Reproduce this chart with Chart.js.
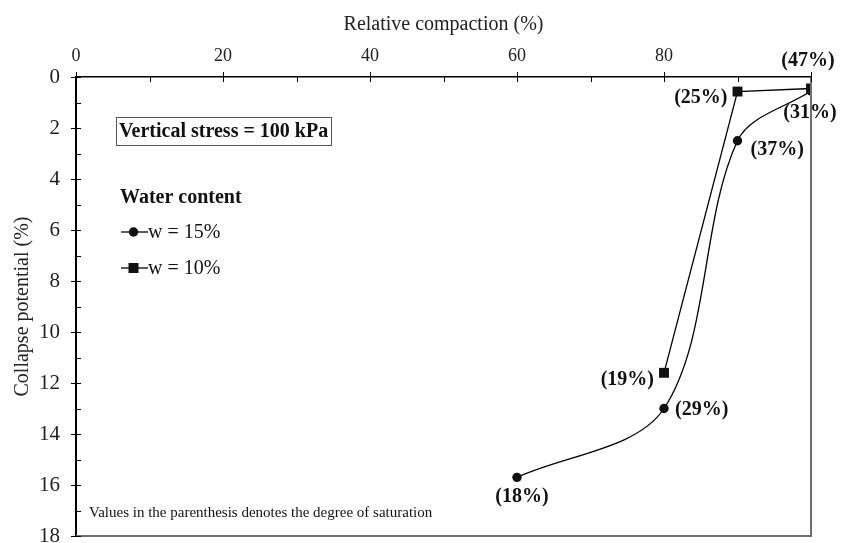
<!DOCTYPE html>
<html>
<head>
<meta charset="utf-8">
<script src="https://cdn.jsdelivr.net/npm/chart.js@4"></script>
<style>
  html, body { margin: 0; padding: 0; background: #fff; }
  #wrap { width: 846px; height: 543px; }
</style>
</head>
<body>
<div id="wrap"><canvas id="myChart" width="846" height="543"></canvas></div>
<script>
// w = 15%
const compaction15 = [60, 80, 90, 100];
const collapse15 = [15.7, 13.0, 2.5, 0.55];
const saturation15 = ['(18%)', '(29%)', '(37%)', '(31%)'];

// w = 10%
const compaction10 = [80, 90, 100];
const collapse10 = [11.6, 0.57, 0.45];
const saturation10 = ['(19%)', '(25%)', '(47%)'];

const xTicks = [0, 20, 40, 60, 80];
const seriesNames = ['w = 15%', 'w = 10%'];

const serif = "'Liberation Serif', 'Times New Roman', serif";

function toPoints(xs, ys) {
  return xs.map((x, i) => ({ x: x, y: ys[i] }));
}

// label offsets around each point [dx, dy, align]
const labelPos15 = [[5, 19, 'center'], [11, 1, 'left'], [13, 9, 'left'], [-1, 22, 'center']];
const labelPos10 = [[-10, 7, 'right'], [-10, 6, 'right'], [-3, -28, 'center']];

const decorations = {
  id: 'decorations',
  afterDraw(chart) {
    const ctx = chart.ctx;
    const xs = chart.scales.x, ys = chart.scales.y;
    const a = chart.chartArea;
    ctx.save();

    // right + bottom plot border
    ctx.strokeStyle = '#6e6e6e';
    ctx.lineWidth = 2;
    ctx.beginPath();
    ctx.moveTo(a.right, a.top);
    ctx.lineTo(a.right, a.bottom);
    ctx.lineTo(a.left, a.bottom);
    ctx.stroke();

    // tick marks: major cross the axis, minor inside only
    ctx.strokeStyle = '#000';
    ctx.lineWidth = 1;
    ctx.beginPath();
    for (let v = 0; v <= 100; v += 10) {
      const px = Math.round(xs.getPixelForValue(v)) + 0.5;
      const major = v % 20 === 0;
      ctx.moveTo(px, a.top - (major ? 5 : 0));
      ctx.lineTo(px, a.top + 5);
    }
    for (let v = 0; v <= 18; v += 1) {
      const py = Math.round(ys.getPixelForValue(v)) + 0.5;
      const major = v % 2 === 0;
      ctx.moveTo(a.left - (major ? 5 : 0), py);
      ctx.lineTo(a.left + 5, py);
    }
    ctx.stroke();

    // degree of saturation labels
    ctx.fillStyle = '#111';
    ctx.font = 'bold 20px ' + serif;
    ctx.textBaseline = 'middle';
    const drawLabels = (xv, yv, txt, pos) => {
      xv.forEach((x, i) => {
        ctx.textAlign = pos[i][2];
        ctx.fillText(txt[i], xs.getPixelForValue(x) + pos[i][0], ys.getPixelForValue(yv[i]) + pos[i][1]);
      });
    };
    drawLabels(compaction15, collapse15, saturation15, labelPos15);
    drawLabels(compaction10, collapse10, saturation10, labelPos10);

    // stress box
    const L = a.left, T = a.top;
    ctx.strokeStyle = '#555';
    ctx.lineWidth = 1;
    ctx.strokeRect(L + 40.5, T + 40.5, 215, 28);
    ctx.textAlign = 'left';
    ctx.font = 'bold 20px ' + serif;
    ctx.fillText('Vertical stress = 100 kPa', L + 43, T + 55);

    // legend
    ctx.fillText('Water content', L + 44, T + 121);
    ctx.font = '20px ' + serif;
    const rows = [T + 155, T + 191];
    rows.forEach((ry, i) => {
      ctx.strokeStyle = '#000';
      ctx.lineWidth = 1.3;
      ctx.beginPath();
      ctx.moveTo(L + 45, ry);
      ctx.lineTo(L + 72, ry);
      ctx.stroke();
      ctx.fillStyle = '#111';
      if (i === 0) {
        ctx.beginPath();
        ctx.arc(L + 57.5, ry, 4.7, 0, Math.PI * 2);
        ctx.fill();
      } else {
        ctx.fillRect(L + 52.5, ry - 5, 10, 10);
      }
      ctx.fillText(seriesNames[i], L + 72, ry + 1);
    });

    // note
    ctx.font = '15px ' + serif;
    ctx.fillText('Values in the parenthesis denotes the degree of saturation', L + 13, a.bottom - 23);

    ctx.restore();
  }
};

const ctx = document.getElementById('myChart').getContext('2d');
new Chart(ctx, {
  type: 'scatter',
  data: {
    datasets: [{
      label: seriesNames[0],
      data: toPoints(compaction15, collapse15),
      showLine: true,
      tension: 0.33,
      borderColor: '#000',
      borderWidth: 1.3,
      backgroundColor: '#111',
      pointStyle: 'circle',
      pointRadius: 4.7,
      pointBorderWidth: 0
    }, {
      label: seriesNames[1],
      data: toPoints(compaction10, collapse10),
      showLine: true,
      tension: 0,
      borderColor: '#000',
      borderWidth: 1.3,
      backgroundColor: '#111',
      pointStyle: 'rect',
      pointRadius: 7,
      pointBorderWidth: 0
    }]
  },
  options: {
    responsive: false,
    animation: false,
    layout: { padding: { left: 0, top: 0, right: 35, bottom: 7 } },
    plugins: { legend: { display: false }, tooltip: { enabled: false } },
    elements: { point: { hoverRadius: 5 } },
    scales: {
      x: {
        type: 'linear',
        position: 'top',
        min: 0, max: 100,
        afterFit: s => { s.height = 77; s.paddingLeft = 0; s.paddingRight = 0; },
        grid: { display: false },
        border: { display: true, color: '#000', width: 1.5 },
        ticks: {
          stepSize: 20,
          padding: 2,
          color: '#222',
          font: { family: serif, size: 18 },
          maxRotation: 0,
          callback: v => xTicks.includes(v) ? v : ''
        },
        title: {
          display: true,
          text: 'Relative compaction (%)',
          color: '#222',
          font: { family: serif, size: 20 },
          padding: { top: 13, bottom: 0 }
        }
      },
      y: {
        type: 'linear',
        reverse: true,
        min: 0, max: 18,
        afterFit: s => { s.width = 76; s.paddingTop = 0; s.paddingBottom = 0; },
        grid: { display: false },
        border: { display: true, color: '#000', width: 2 },
        ticks: {
          stepSize: 2,
          padding: 8,
          color: '#222',
          font: { family: serif, size: 21 }
        },
        title: {
          display: true,
          text: 'Collapse potential (%)',
          color: '#222',
          font: { family: serif, size: 20 },
          padding: { top: 11, bottom: 0 }
        }
      }
    }
  },
  plugins: [decorations]
});
</script>
</body>
</html>
